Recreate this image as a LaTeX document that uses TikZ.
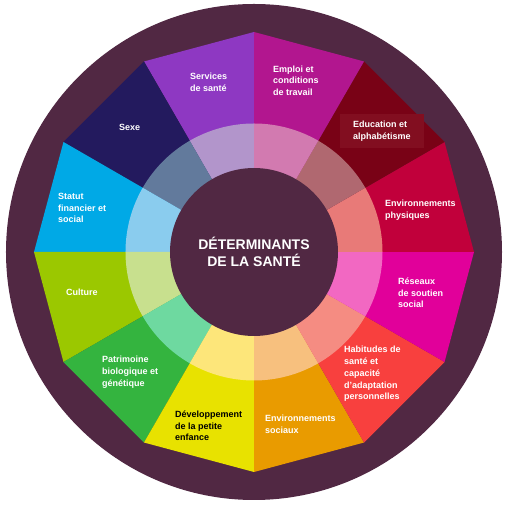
\documentclass[tikz,border=0pt]{standalone}
\usepackage{fontspec}
\setmainfont{Liberation Sans}
\usepackage{tikz}

\definecolor{wheeldark}{HTML}{512843}
\definecolor{services}{HTML}{8E38C2}
\definecolor{servicesl}{HTML}{B295CB}
\definecolor{emploi}{HTML}{B2168F}
\definecolor{emploil}{HTML}{D27AB0}
\definecolor{education}{HTML}{790216}
\definecolor{educationbox}{HTML}{820E20}
\definecolor{educationl}{HTML}{B06870}
\definecolor{envphys}{HTML}{C1003B}
\definecolor{envphysl}{HTML}{E87A78}
\definecolor{reseaux}{HTML}{E1009A}
\definecolor{reseauxl}{HTML}{F268C2}
\definecolor{habitudes}{HTML}{F8403E}
\definecolor{habitudesl}{HTML}{F58C82}
\definecolor{envsoc}{HTML}{E99B00}
\definecolor{envsocl}{HTML}{F7C07E}
\definecolor{develop}{HTML}{E8E200}
\definecolor{developl}{HTML}{FDE67A}
\definecolor{patrimoine}{HTML}{34B43F}
\definecolor{patrimoinel}{HTML}{6ED9A0}
\definecolor{culture}{HTML}{9BC800}
\definecolor{culturel}{HTML}{C8E08E}
\definecolor{statut}{HTML}{00A9E6}
\definecolor{statutl}{HTML}{8ACCEE}
\definecolor{sexe}{HTML}{231A5E}
\definecolor{sexel}{HTML}{627A9C}

\begin{document}
\begin{tikzpicture}[x=1pt,y=1pt,
		lbl/.style={anchor=west,align=left,inner sep=0pt,text=white,font=\bfseries\fontsize{9}{11.7}\selectfont}]
				\useasboundingbox (-254,-258) rectangle (257,252);
				\fill[wheeldark](0,0) circle [radius=248pt];
				% outer segments
				\fill[services](0,0)--(90:220pt)--(120:220pt)--cycle;
				\fill[sexe](0,0)--(120:220pt)--(150:220pt)--cycle;
				\fill[statut](0,0)--(150:220pt)--(180:220pt)--cycle;
				\fill[culture](0,0)--(180:220pt)--(210:220pt)--cycle;
				\fill[patrimoine](0,0)--(210:220pt)--(240:220pt)--cycle;
				\fill[develop](0,0)--(240:220pt)--(270:220pt)--cycle;
				\fill[envsoc](0,0)--(270:220pt)--(300:220pt)--cycle;
				\fill[habitudes](0,0)--(300:220pt)--(330:220pt)--cycle;
				\fill[reseaux](0,0)--(330:220pt)--(360:220pt)--cycle;
				\fill[envphys](0,0)--(0:220pt)--(30:220pt)--cycle;
				\fill[education](0,0)--(30:220pt)--(60:220pt)--cycle;
				\fill[emploi](0,0)--(60:220pt)--(90:220pt)--cycle;
				% light ring
				\fill[servicesl](0,0)--(90:128.5pt) arc[start angle=90,end angle=120,radius=128.5pt]--cycle;
				\fill[sexel](0,0)--(120:128.5pt) arc[start angle=120,end angle=150,radius=128.5pt]--cycle;
				\fill[statutl](0,0)--(150:128.5pt) arc[start angle=150,end angle=180,radius=128.5pt]--cycle;
				\fill[culturel](0,0)--(180:128.5pt) arc[start angle=180,end angle=210,radius=128.5pt]--cycle;
				\fill[patrimoinel](0,0)--(210:128.5pt) arc[start angle=210,end angle=240,radius=128.5pt]--cycle;
				\fill[developl](0,0)--(240:128.5pt) arc[start angle=240,end angle=270,radius=128.5pt]--cycle;
				\fill[envsocl](0,0)--(270:128.5pt) arc[start angle=270,end angle=300,radius=128.5pt]--cycle;
				\fill[habitudesl](0,0)--(300:128.5pt) arc[start angle=300,end angle=330,radius=128.5pt]--cycle;
				\fill[reseauxl](0,0)--(330:128.5pt) arc[start angle=330,end angle=360,radius=128.5pt]--cycle;
				\fill[envphysl](0,0)--(0:128.5pt) arc[start angle=0,end angle=30,radius=128.5pt]--cycle;
				\fill[educationl](0,0)--(30:128.5pt) arc[start angle=30,end angle=60,radius=128.5pt]--cycle;
				\fill[emploil](0,0)--(60:128.5pt) arc[start angle=60,end angle=90,radius=128.5pt]--cycle;
				% centre
				\fill[wheeldark](0,0) circle [radius=84pt];
				\node[text=white,font=\bfseries\fontsize{14}{17.5}\selectfont,align=center] (centre) at (0,0) {DÉTERMINANTS\\DE LA SANTÉ};
				% labels
				\node[lbl] (services-lbl) at (-64,170) {Services\\de santé};
				\node[lbl] (emploi-lbl) at (19,171.5) {Emploi et\\conditions\\de travail};
				\node[lbl,fill=educationbox,inner xsep=13pt,inner ysep=7pt] (education-lbl) at (86,121) {Education et\\alphabétisme};
				\node[lbl] (envphys-lbl) at (131,42) {Environnements\\physiques};
				\node[lbl] (reseaux-lbl) at (144,-41) {Réseaux\\de soutien\\social};
				\node[lbl] (habitudes-lbl) at (90,-122) {Habitudes de\\santé et\\capacité\\d’adaptation\\personnelles};
				\node[lbl] (envsoc-lbl) at (11,-172) {Environnements\\sociaux};
				\node[lbl,text=black] (develop-lbl) at (-79,-174) {Développement\\de la petite\\enfance};
				\node[lbl] (patrimoine-lbl) at (-152,-120) {Patrimoine\\biologique et\\génétique};
				\node[lbl] (culture-lbl) at (-188,-40) {Culture};
				\node[lbl] (statut-lbl) at (-196,44) {Statut\\financier et\\social};
				\node[lbl] (sexe-lbl) at (-135,125) {Sexe};
			\end{tikzpicture}
\end{document}
